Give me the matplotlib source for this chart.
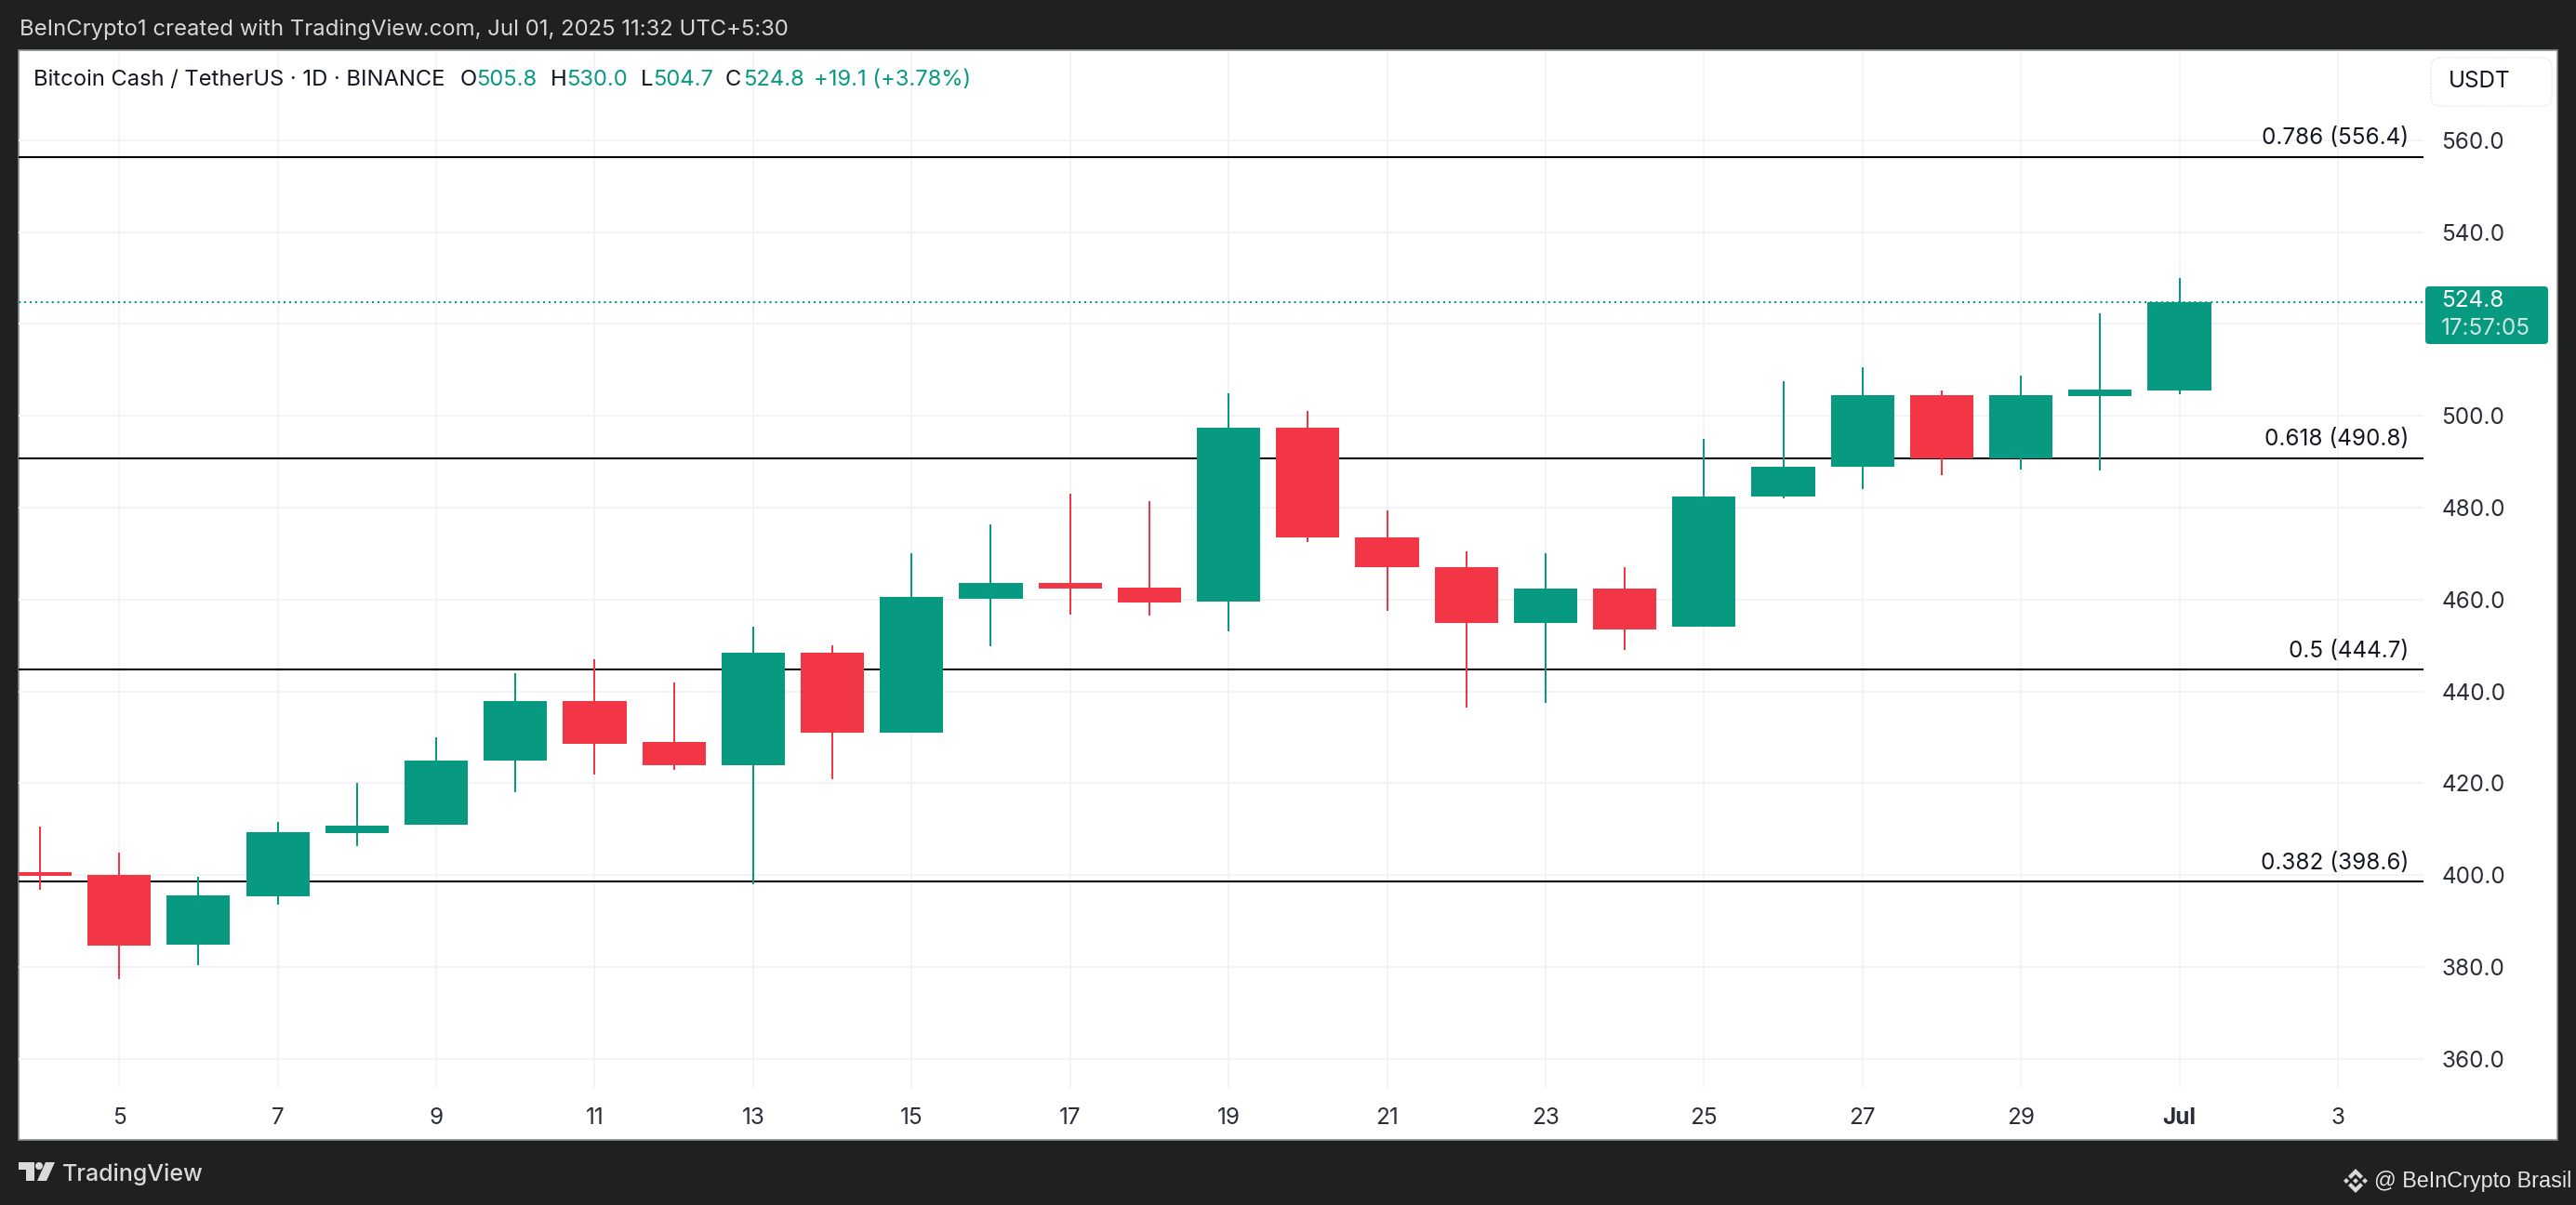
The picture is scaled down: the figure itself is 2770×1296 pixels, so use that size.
import matplotlib
matplotlib.use("Agg")
import matplotlib.pyplot as plt
from matplotlib.patches import Rectangle, FancyBboxPatch, Polygon, Circle

plt.rcParams['font.family'] = ['Inter', 'DejaVu Sans']

# candles, days counted from Jun 1 (31 = Jul 1)
days = list(range(4, 32))
opens = [400.7, 400.0, 384.9, 395.4, 409.1, 411.0, 425.0, 438.0, 429.0, 424.0, 448.5, 431.0, 460.1, 463.6,
         462.6, 459.5, 497.5, 473.5, 467.0, 455.0, 462.5, 454.0, 482.5, 489.0, 504.5, 490.7, 504.3, 505.5]
closes = [399.9, 384.7, 395.6, 409.3, 410.8, 425.0, 438.0, 428.5, 424.0, 448.5, 431.0, 460.5, 463.6, 462.4,
          459.4, 497.5, 473.5, 467.0, 455.0, 462.5, 453.5, 482.5, 489.0, 504.5, 490.7, 504.5, 505.7, 524.8]
highs = [410.6, 404.9, 399.6, 411.6, 420.0, 430.0, 444.0, 447.0, 442.0, 454.0, 450.0, 470.0, 476.3, 483.0,
         481.4, 505.0, 501.0, 479.5, 470.5, 470.0, 467.0, 495.0, 507.5, 510.5, 505.5, 508.7, 522.3, 530.0]
lows = [396.8, 377.4, 380.4, 393.5, 406.3, 411.0, 418.0, 422.0, 423.0, 398.0, 421.0, 431.0, 449.8, 456.7,
        456.5, 453.0, 472.5, 457.5, 436.5, 437.5, 449.0, 454.0, 482.0, 484.0, 487.0, 488.3, 488.1, 504.7]

fib_levels = [556.4, 490.8, 444.7, 398.6]
fib_labels = ["0.786 (556.4)", "0.618 (490.8)", "0.5 (444.7)", "0.382 (398.6)"]

price_ticks = [360, 380, 400, 420, 440, 460, 480, 500, 520, 540, 560]
# 520 has no label, the last price tag covers it
price_labels = ["360.0", "380.0", "400.0", "420.0", "440.0", "460.0", "480.0", "500.0", "", "540.0", "560.0"]
day_ticks = [5, 7, 9, 11, 13, 15, 17, 19, 21, 23, 25, 27, 29, 31, 33]
day_labels = ["5", "7", "9", "11", "13", "15", "17", "19", "21", "23", "25", "27", "29", "Jul", "3"]
last_price = 524.8

GREEN = "#089981"
RED = "#F23645"
DARK = "#1F2120"
W, H = 2770, 1296

fig = plt.figure(figsize=(W / 100, H / 100), dpi=100, facecolor=DARK)

# overlay in pixels for the window chrome
bg = fig.add_axes([0, 0, 1, 1], zorder=0)
bg.set_xlim(0, W)
bg.set_ylim(H, 0)
bg.axis("off")
bg.add_patch(Rectangle((20, 54), 2730, 1172, fc="white", ec="#8A8C8C", lw=1.2))

top = fig.add_axes([0, 0, 1, 1], zorder=5)
top.set_xlim(0, W)
top.set_ylim(H, 0)
top.axis("off")

# main price axes
ax = fig.add_axes([20 / W, 1 - 1170 / H, 2586 / W, (1170 - 55) / H], zorder=2)
ax.patch.set_alpha(0)
ax.set_xlim(3.73, 34.08)
ax.set_ylim(353.7, 579.4)
for s in ax.spines.values():
    s.set_visible(False)
ax.yaxis.tick_right()
ax.set_yticks(price_ticks)
ax.set_yticklabels(price_labels)
ax.set_xticks(day_ticks)
ax.set_xticklabels(day_labels)
ax.tick_params(axis="both", length=0, labelsize=17.5, labelcolor="#2A2E39")
ax.tick_params(axis="y", pad=14)
ax.tick_params(axis="x", pad=15)
ax.get_xticklabels()[day_labels.index("Jul")].set_fontweight("bold")
ax.grid(True, color="#F2F3F4", lw=1.44)
ax.set_axisbelow(True)

# fib lines sit behind the candles
for lev, lab in zip(fib_levels, fib_labels):
    ax.axhline(lev, color="black", lw=1.5, zorder=2.5)
    ax.annotate(lab, (2590, lev), xycoords=("figure pixels", "data"), xytext=(0, 6),
                textcoords="offset points", ha="right", va="bottom", fontsize=17.5, color="#131722")

colors = [GREEN if c >= o else RED for o, c in zip(opens, closes)]
ax.vlines(days, lows, highs, colors=colors, lw=1.44, zorder=3)
ax.bar(days, [abs(c - o) for o, c in zip(opens, closes)], bottom=[min(o, c) for o, c in zip(opens, closes)],
       width=0.8, color=colors, zorder=3)

ax.axhline(last_price, color=GREEN, lw=1.5, ls=(0, (1, 1.85)), zorder=4)

# header and legend text
top.text(21, 32, "BeInCrypto1 created with TradingView.com, Jul 01, 2025 11:32 UTC+5:30",
         color="#D6D8D8", fontsize=17.2, va="center")
top.text(36, 86, "Bitcoin Cash / TetherUS · 1D · BINANCE", color="#131722", fontsize=17.1, va="center")
for x, s, c in [(495, "O", "#131722"), (512, "505.8", GREEN), (592, "H", "#131722"), (609, "530.0", GREEN),
                (689, "L", "#131722"), (702, "504.7", GREEN), (780, "C", "#131722"), (799, "524.8", GREEN),
                (875, "+19.1 (+3.78%)", GREEN)]:
    top.text(x, 86, s, color=c, fontsize=17.1, va="center")

# currency button
top.add_patch(FancyBboxPatch((2622, 70), 114, 36, boxstyle="round,pad=8,rounding_size=10",
                             fc="white", ec="#E8E9EA", lw=1.2, ls=(0, (1, 1))))
top.text(2633, 87, "USDT", color="#131722", fontsize=17.5, va="center")

# last price tag
top.add_patch(FancyBboxPatch((2610, 310), 128, 58, boxstyle="round,pad=2,rounding_size=4", fc=GREEN, ec="none"))
top.text(2625, 324, "524.8", color="white", fontsize=17.5, va="center")
top.text(2625, 354, "17:57:05", color="#CFE8E2", fontsize=17.5, va="center")

# footer
logo = "#D9DBDA"
top.add_patch(Polygon([(20, 1250), (37, 1250), (37, 1270), (28, 1270), (28, 1258), (20, 1258)], fc=logo))
top.add_patch(Circle((42, 1254), 4, fc=logo))
top.add_patch(Polygon([(49, 1250), (59, 1250), (50, 1270), (40, 1270)], fc=logo))
top.text(67, 1263, "TradingView", color=logo, fontsize=18, va="center", fontweight="medium")

cx, cy = 2533, 1270
top.add_patch(Polygon([(cx, cy - 13), (cx + 8, cy - 5), (cx + 5, cy - 2), (cx, cy - 7), (cx - 5, cy - 2), (cx - 8, cy - 5)], fc=logo))
top.add_patch(Polygon([(cx, cy + 13), (cx + 8, cy + 5), (cx + 5, cy + 2), (cx, cy + 7), (cx - 5, cy + 2), (cx - 8, cy + 5)], fc=logo))
top.add_patch(Polygon([(cx, cy - 3), (cx + 3, cy), (cx, cy + 3), (cx - 3, cy)], fc=logo))
top.add_patch(Polygon([(cx - 13, cy), (cx - 10, cy - 3), (cx - 7, cy), (cx - 10, cy + 3)], fc=logo))
top.add_patch(Polygon([(cx + 13, cy), (cx + 10, cy - 3), (cx + 7, cy), (cx + 10, cy + 3)], fc=logo))
top.text(2553, 1270, "@ BeInCrypto Brasil", color="#E4E5E5", fontsize=16.8,
         family=["Liberation Sans", "DejaVu Sans"], va="center")

fig.savefig("out.png", dpi=100, facecolor=DARK)
